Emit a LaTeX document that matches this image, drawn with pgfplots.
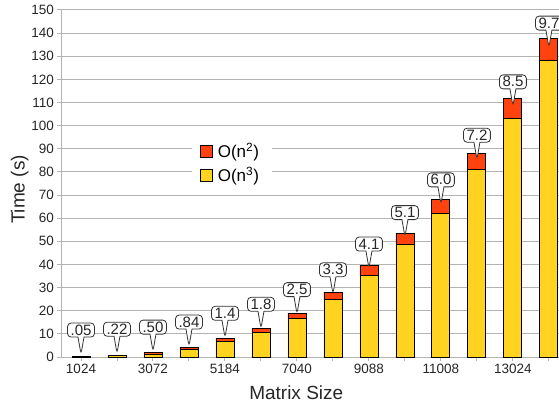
\documentclass[border=0pt]{standalone}
\usepackage{pgfplots}
\pgfplotsset{compat=1.18}
\usepackage{pgfplotstable}
\usetikzlibrary{shapes.callouts}
\usepackage{fontspec}
\setmainfont{Liberation Sans}
\definecolor{cred}{HTML}{FF420E}
\definecolor{cyel}{HTML}{FFD320}
\definecolor{cgrid}{HTML}{B3B3B3}
\definecolor{cbox}{HTML}{333333}

\pgfplotstableread{
i yel red lbl
0 0.25 0.05 .05
1 0.55 0.22 .22
2 1.3 0.50 .50
3 3.3 0.84 .84
4 6.8 1.4 1.4
5 10.5 1.8 1.8
6 16.5 2.5 2.5
7 24.7 3.3 3.3
8 35.4 4.1 4.1
9 48.5 5.1 5.1
10 62.2 6.0 6.0
11 80.9 7.2 7.2
12 103.3 8.5 8.5
13 128.1 9.7 9.7
}\datatable

\begin{document}
\begin{tikzpicture}
\begin{axis}[
  name=ax,
  scale only axis,
  width=497.5pt, height=347pt,
  ybar stacked,
  bar width=0.5,
  xmin=-0.542, xmax=13.28,
  ymin=0, ymax=150,
  ytick={0,10,...,150},
  xtick={0,...,13},
  xticklabels={1024,,3072,,5184,,7040,,9088,,11008,,13024,},
  axis x line*=bottom,
  axis y line*=left,
  axis line style={cgrid, line width=1pt},
  tick style={cgrid, line width=1pt},
  tick align=outside,
  major tick length=4pt,
  ymajorgrids,
  grid style={cgrid, line width=1pt},
  /pgf/number format/assume math mode=true,
  ticklabel style={font=\fontsize{13.5}{15}\selectfont, text=black!85},
  xlabel={Matrix Size},
  ylabel={Time (s)},
  label style={font=\fontsize{19}{22}\selectfont, text=black!85},
  xlabel style={xshift=-14pt, yshift=-5pt},
  ylabel style={xshift=-6pt, yshift=-4pt},
  legend style={at={(0.262,0.631)}, anchor=north west, draw=none, fill=white,
    font=\fontsize{17}{20}\selectfont, row sep=4pt, inner xsep=8pt, inner ysep=3pt,
    cells={anchor=west}, nodes={inner xsep=5pt}},
  legend image code/.code={\draw[#1, draw=black, line width=0.8pt] (2pt,-6pt) rectangle (14pt,6pt);},
  reverse legend,
]
\addplot[fill=cyel, draw=black, line width=0.9pt] table[x=i, y=yel] {\datatable};
\addlegendentry{O(n\textsuperscript{3})}
\addplot[fill=cred, draw=black, line width=0.9pt,
  point meta=explicit symbolic,
  nodes near coords,
  nodes near coords align={anchor=pointer},
  nodes near coords style={rectangle callout, draw=cbox, fill=white,
    line width=0.8pt, rounded corners=3.5pt, inner xsep=3pt, inner ysep=2pt,
    text height=10pt, text depth=0pt,
    callout relative pointer={(0pt,-17pt)}, callout pointer width=6pt,
    text=black!85, font=\fontsize{15}{16}\selectfont}
] table[x=i, y=red, meta=lbl] {\datatable};
\addlegendentry{O(n\textsuperscript{2})}
\end{axis}
\pgfresetboundingbox
\path[use as bounding box] ([shift={(-61.5pt,-47pt)}]ax.south west) rectangle ([shift={(0pt,10pt)}]ax.north east);
\end{tikzpicture}
\end{document}
